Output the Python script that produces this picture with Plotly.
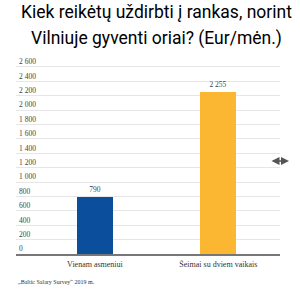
import plotly.graph_objects as go

categories = ["Vienam asmeniui", "Šeimai su dviem vaikais"]
values = [790, 2255]
value_labels = ["790", "2 255"]
bar_colors = ["#0b4f9c", "#fbb632"]
tick_vals = list(range(0, 2601, 200))
tick_text = [f"{v:,}".replace(",", " ") for v in tick_vals]
title_lines = ["Kiek reikėtų uždirbti į rankas, norint", "Vilniuje gyventi oriai? (Eur/mėn.)"]
source_text = "„Baltic Salary Survey“ 2019 m."

W, H = 300, 291
plot_top, plot_bottom = 56, 254
ph = plot_bottom - plot_top
pw = W - 36
SERIF = "Liberation Serif, Times New Roman, serif"

def py(pix):
    return (plot_bottom - pix) / ph

def px(pix):
    return (pix - 16) / pw

fig = go.Figure()
fig.add_trace(go.Bar(
    x=[0, 1], y=values, width=0.29,
    marker=dict(color=bar_colors, line=dict(width=0)),
    text=value_labels, textposition="outside",
    textfont=dict(family=SERIF, size=7.5, color="#444"),
    cliponaxis=False, hoverinfo="skip",
))

fig.update_layout(
    width=W, height=H,
    margin=dict(l=16, r=20, t=plot_top, b=H - plot_bottom),
    paper_bgcolor="white", plot_bgcolor="white",
    showlegend=False,
    bargap=0,
    xaxis=dict(
        range=[-0.64, 1.5], tickvals=[0, 1], ticktext=categories,
        tickfont=dict(family=SERIF, size=8, color="#333"),
        showgrid=False, zeroline=False,
        showline=True, linecolor="#777", linewidth=1.5,
        ticks="", ticklabelstandoff=2,
    ),
    yaxis=dict(
        range=[0, 2750], tickvals=tick_vals, ticktext=tick_text,
        ticklabelposition="inside top",
        tickfont=dict(family=SERIF, size=7.5, color="#444"),
        showgrid=True, gridcolor="#e6e6e6", gridwidth=1,
        zeroline=False, showline=False, ticks="",
    ),
)

for i, yp in enumerate([12, 38]):
    fig.add_annotation(x=px(156), y=py(yp), xref="paper", yref="paper", text=title_lines[i],
                       showarrow=False, xanchor="center", yanchor="middle",
                       font=dict(family="Roboto", size=17.5, color="#000"))
fig.add_annotation(x=0, y=py(282), xref="paper", yref="paper", text=source_text,
                   showarrow=False, xanchor="left", yanchor="middle",
                   font=dict(family=SERIF, size=6, color="#333"))
fig.add_annotation(x=px(289), y=py(161), xref="paper", yref="paper", text="",
                   showarrow=True, arrowhead=2, arrowside="end+start", arrowsize=1,
                   arrowwidth=1.6, arrowcolor="#555", ax=-19, ay=0, standoff=0, startstandoff=0)

fig.write_html("out.html")
